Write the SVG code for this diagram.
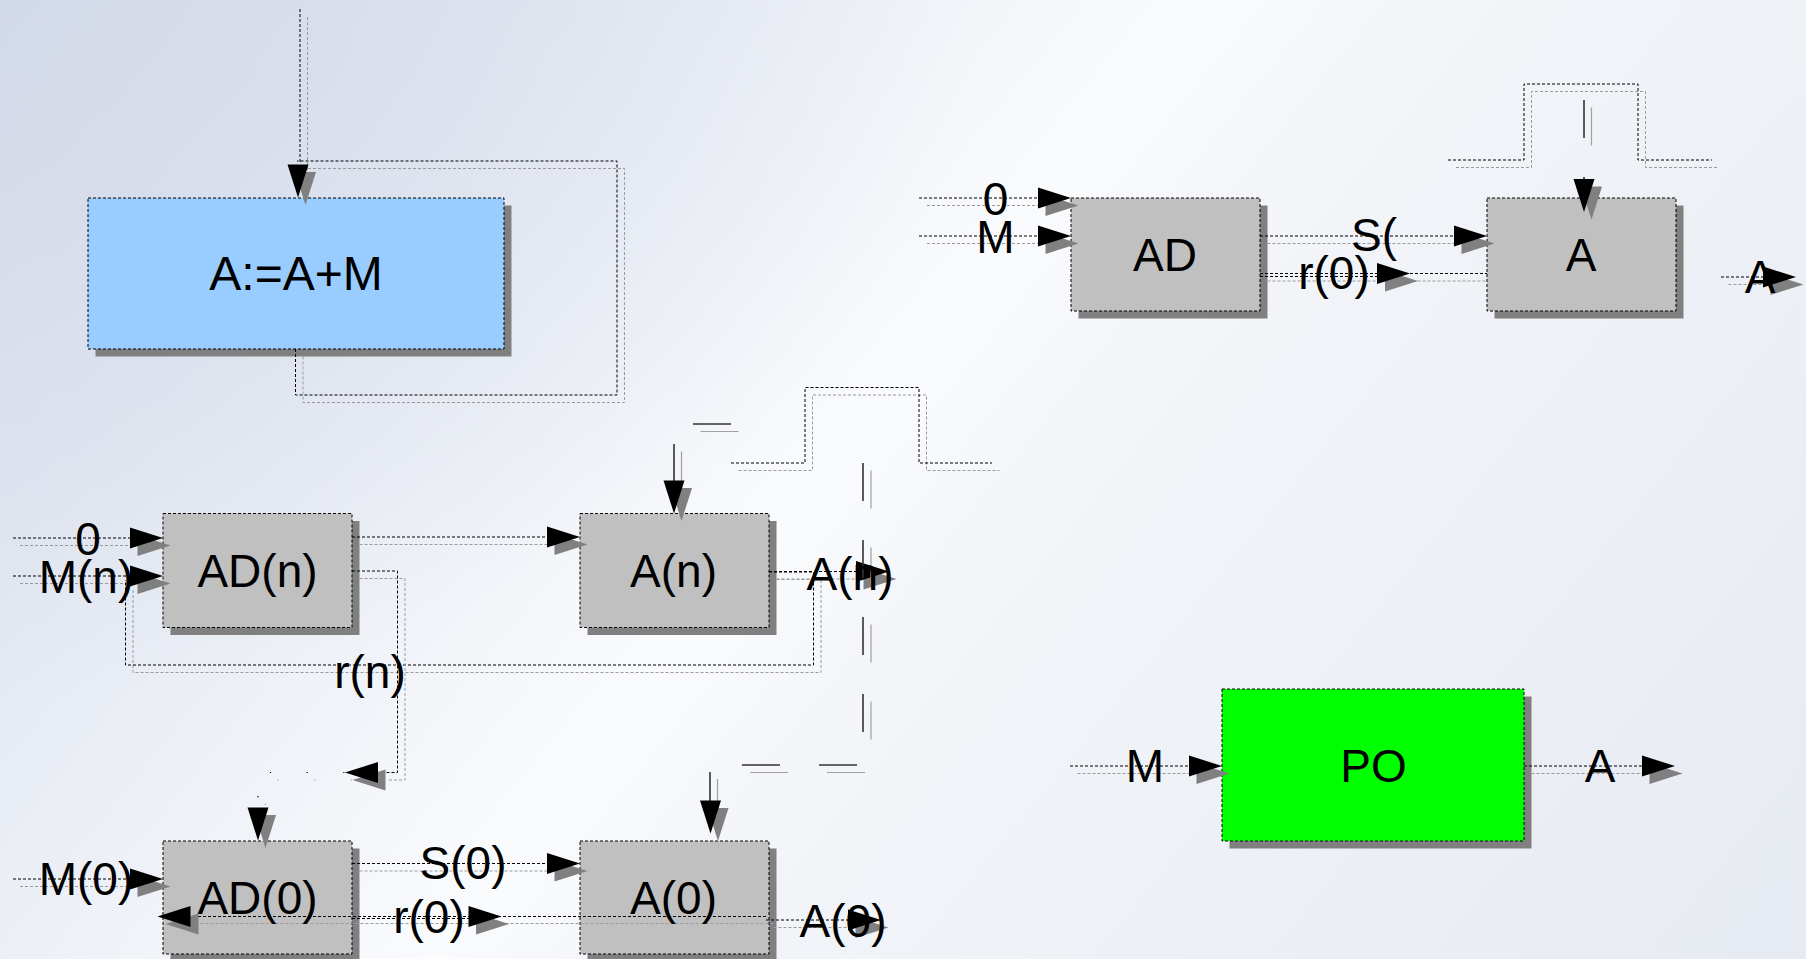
<svg xmlns="http://www.w3.org/2000/svg" xmlns:xlink="http://www.w3.org/1999/xlink" width="1806" height="959" viewBox="0 0 1806 959">
  <style>
    text { font-family: "Liberation Sans", Arial, sans-serif; font-size: 46px; fill: #000; text-anchor: middle; }
    .big { font-size: 48px; }
    .box { stroke: #000; stroke-width: 1; stroke-dasharray: 3 2; }
    .grey { fill: #c0c0c0; }
    .shadow { fill: #808080; stroke: none; }
    .ln { fill: none; stroke: #000; stroke-width: 1; stroke-dasharray: 3 2; }
    .lns { fill: none; stroke: #9a9a9a; stroke-width: 1; stroke-dasharray: 3 2; }
    .ld { fill: none; stroke: #333; stroke-width: 1.6; stroke-dasharray: 38 39; }
    .lds { fill: none; stroke: #a0a0a0; stroke-width: 1.2; stroke-dasharray: 38 39; }
    .dot { fill: none; stroke: #000; stroke-width: 1.2; stroke-dasharray: 1.2 35.5; }
    .dots { fill: none; stroke: #999; stroke-width: 1.2; stroke-dasharray: 1.2 35.5; }
    .ah { fill: #000; }
    .ahs { fill: #808080; }
  </style>
  <defs>
    <linearGradient id="bg" gradientUnits="userSpaceOnUse" x1="0" y1="0" x2="1553" y2="1262">
      <stop offset="0" stop-color="#d6dcea"/>
      <stop offset="0.25" stop-color="#e8ecf4"/>
      <stop offset="0.47" stop-color="#fafbfd"/>
      <stop offset="0.55" stop-color="#f3f5f9"/>
      <stop offset="1" stop-color="#e6eaf2"/>
    </linearGradient>
    <radialGradient id="corner" gradientUnits="userSpaceOnUse" cx="0" cy="0" r="700" gradientTransform="scale(1.4 1)">
      <stop offset="0" stop-color="#d2d9e8" stop-opacity="0.8"/>
      <stop offset="1" stop-color="#d2d9e8" stop-opacity="0"/>
    </radialGradient>
    <!-- arrowhead pointing right, tip at the origin -->
    <path id="arrow" d="M0,0 L-33,-10.5 L-33,10.5 Z"/>
  </defs>

  <rect x="0" y="0" width="1806" height="959" fill="url(#bg)"/>
  <rect x="0" y="0" width="1806" height="959" fill="url(#corner)"/>

  <!-- nodes -->
  <g id="accumulator">
    <rect class="shadow" x="95.5" y="205.5" width="416" height="151"/>
    <rect class="box" x="88" y="198" width="416" height="151" fill="#99ccff"/>
  </g>

  <g id="ad">
    <rect class="shadow" x="1078.5" y="205.5" width="189" height="113"/>
    <rect class="box grey" x="1071" y="198" width="189" height="113"/>
  </g>
  <g id="a">
    <rect class="shadow" x="1494.5" y="205.5" width="189" height="113"/>
    <rect class="box grey" x="1487" y="198" width="189" height="113"/>
  </g>

  <g id="ad-n">
    <rect class="shadow" x="170.5" y="521" width="189" height="114"/>
    <rect class="box grey" x="163" y="513.5" width="189" height="114"/>
  </g>
  <g id="a-n">
    <rect class="shadow" x="587.5" y="521" width="189" height="114"/>
    <rect class="box grey" x="580" y="513.5" width="189" height="114"/>
  </g>

  <g id="ad-0">
    <rect class="shadow" x="170.5" y="848.5" width="189" height="113"/>
    <rect class="box grey" x="163" y="841" width="189" height="113"/>
  </g>
  <g id="a-0">
    <rect class="shadow" x="587.5" y="848.5" width="189" height="113"/>
    <rect class="box grey" x="580" y="841" width="189" height="113"/>
  </g>

  <g id="po">
    <rect class="shadow" x="1229.5" y="696.5" width="302" height="152"/>
    <rect class="box" x="1222" y="689" width="302" height="152" fill="#00ff00"/>
  </g>

  <!-- connectors -->
  <g id="connectors">
    <!-- accumulator loop -->
    <path class="lns" d="M307.5,17 V172"/>
    <path class="ln" d="M300,9 V164"/>
    <path class="lns" d="M303,356.5 V402.5 H624.5 V168.5 H308"/>
    <path class="ln" d="M295.5,349 V395 H617 V161 H297"/>
    <use href="#arrow" class="ahs" transform="translate(305.5,205) rotate(90)"/>
    <use href="#arrow" class="ah" transform="translate(298,197.5) rotate(90)"/>

    <!-- top right: AD / A -->
    <path class="lns" d="M927,205.5 H1063"/>
    <path class="ln" d="M919,198 H1040"/>
    <use href="#arrow" class="ahs" transform="translate(1078.5,205.5)"/>
    <use href="#arrow" class="ah" transform="translate(1071,198)"/>
    <path class="lns" d="M927,243.5 H1063"/>
    <path class="ln" d="M919,236 H1040"/>
    <use href="#arrow" class="ahs" transform="translate(1078.5,243.5)"/>
    <use href="#arrow" class="ah" transform="translate(1071,236)"/>

    <path class="lns" d="M1267.5,243.5 H1480"/>
    <path class="ln" d="M1260,236 H1455"/>
    <use href="#arrow" class="ahs" transform="translate(1494.5,243.5)"/>
    <use href="#arrow" class="ah" transform="translate(1487,236)"/>

    <path class="lns" d="M1267.5,281 H1487"/>
    <path class="ln" d="M1260,273.5 H1487"/>
    <path class="ln" d="M1260,276.5 H1380"/>
    <use href="#arrow" class="ahs" transform="translate(1418,281)"/>
    <use href="#arrow" class="ah" transform="translate(1410,273.5)"/>

    <path class="lns" d="M1456,167.5 H1531.5 V91.5 H1645.5 V167.5 H1719"/>
    <path class="ln" d="M1448,160 H1524 V84 H1638 V160 H1712"/>
    <path class="lds" d="M1591.5,107.5 V212"/>
    <path class="ld" d="M1584,100 V180"/>
    <use href="#arrow" class="ahs" transform="translate(1591.5,219.5) rotate(90)"/>
    <use href="#arrow" class="ah" transform="translate(1584,212) rotate(90)"/>

    <path class="lns" d="M1728.5,284.5 H1770"/>
    <path class="ln" d="M1721,277 H1763"/>
    <use href="#arrow" class="ahs" transform="translate(1803.5,284.5)"/>
    <use href="#arrow" class="ah" transform="translate(1796,277)"/>

    <!-- middle: AD(n) / A(n) -->
    <path class="lns" d="M20,545.5 H155"/>
    <path class="ln" d="M13,538 H130"/>
    <use href="#arrow" class="ahs" transform="translate(170.5,545.5)"/>
    <use href="#arrow" class="ah" transform="translate(163,538)"/>
    <path class="lns" d="M20,583.5 H155"/>
    <path class="ln" d="M13,576 H130"/>
    <use href="#arrow" class="ahs" transform="translate(170.5,583.5)"/>
    <use href="#arrow" class="ah" transform="translate(163,576)"/>

    <path class="lns" d="M359.5,544.5 H572"/>
    <path class="ln" d="M352,537 H547"/>
    <use href="#arrow" class="ahs" transform="translate(587.5,544.5)"/>
    <use href="#arrow" class="ah" transform="translate(580,537)"/>

    <path class="lns" d="M776.5,579.5 H821 V672.5 H133 V588"/>
    <path class="ln" d="M769,572 H813.5 V665 H125.5 V580"/>

    <path class="lns" d="M776.5,579 H863"/>
    <path class="ln" d="M769,571.5 H856"/>
    <use href="#arrow" class="ahs" transform="translate(896.5,579)"/>
    <use href="#arrow" class="ah" transform="translate(889,571.5)"/>

    <path class="lns" d="M359.5,578.5 H405 V780 H387"/>
    <path class="ln" d="M352,571 H397.5 V772.5 H378"/>
    <use href="#arrow" class="ahs" transform="translate(352.5,780) rotate(180)"/>
    <use href="#arrow" class="ah" transform="translate(345,772.5) rotate(180)"/>
    <path class="dots" d="M352,780 H265.5 V815"/>
    <path class="dot" d="M344.5,772.5 H258 V807"/>
    <use href="#arrow" class="ahs" transform="translate(265.5,848) rotate(90)"/>
    <use href="#arrow" class="ah" transform="translate(258,840.5) rotate(90)"/>

    <path class="lns" d="M738.5,470.5 H812.5 V395 H926.5 V470.5 H999.5"/>
    <path class="ln" d="M731,463 H805 V387.5 H919 V463 H992"/>
    <path class="lds" d="M738.5,470.5 V431.5 H681.5 V490" stroke-dashoffset="38"/>
    <path class="ld" d="M731,463 V424 H674 V482" stroke-dashoffset="38"/>
    <use href="#arrow" class="ahs" transform="translate(681.5,521) rotate(90)"/>
    <use href="#arrow" class="ah" transform="translate(674,513.5) rotate(90)"/>

    <path class="lds" d="M871,470.5 V772.5 H717.5 V808"/>
    <path class="ld" d="M863,463 V765 H710 V801"/>
    <use href="#arrow" class="ahs" transform="translate(718,841) rotate(90)"/>
    <use href="#arrow" class="ah" transform="translate(710.5,833.5) rotate(90)"/>

    <!-- bottom: AD(0) / A(0) -->
    <path class="lns" d="M20,886.5 H155"/>
    <path class="ln" d="M13,879 H130"/>
    <use href="#arrow" class="ahs" transform="translate(170.5,886.5)"/>
    <use href="#arrow" class="ah" transform="translate(163,879)"/>

    <path class="lns" d="M359.5,871 H572"/>
    <path class="ln" d="M352,863.5 H547"/>
    <use href="#arrow" class="ahs" transform="translate(587.5,871)"/>
    <use href="#arrow" class="ah" transform="translate(580,863.5)"/>

    <path class="lns" d="M773.5,923.5 H198"/>
    <path class="ln" d="M766,916.5 H191"/>
    <path class="ln" d="M352,918.5 H470"/>
    <use href="#arrow" class="ahs" transform="translate(165.5,924) rotate(180)"/>
    <use href="#arrow" class="ah" transform="translate(157.5,916.5) rotate(180)"/>
    <use href="#arrow" class="ahs" transform="translate(509,924)"/>
    <use href="#arrow" class="ah" transform="translate(501.5,916.5)"/>

    <path class="lns" d="M773.5,927.5 H855"/>
    <path class="ln" d="M766,920 H848"/>
    <use href="#arrow" class="ahs" transform="translate(888.5,927.5)"/>
    <use href="#arrow" class="ah" transform="translate(881,920)"/>

    <!-- PO -->
    <path class="lns" d="M1077.5,773.5 H1215"/>
    <path class="ln" d="M1070,766 H1189"/>
    <use href="#arrow" class="ahs" transform="translate(1229.5,773.5)"/>
    <use href="#arrow" class="ah" transform="translate(1222,766)"/>
    <path class="lns" d="M1531.5,773.5 H1650"/>
    <path class="ln" d="M1524,766 H1642"/>
    <use href="#arrow" class="ahs" transform="translate(1682.5,773.5)"/>
    <use href="#arrow" class="ah" transform="translate(1675,766)"/>
  </g>

  <!-- node titles -->
  <g id="titles">
    <text class="big" x="296" y="290">A:=A+M</text>
    <text x="1165" y="271">AD</text>
    <text x="1581" y="271">A</text>
    <text x="257.5" y="587">AD(n)</text>
    <text x="673.5" y="587">A(n)</text>
    <text x="257.5" y="914">AD(0)</text>
    <text x="673.5" y="914">A(0)</text>
    <text x="1373.5" y="782">PO</text>
  </g>

  <!-- signal labels -->
  <g id="labels">
    <text x="995.5" y="215">0</text>
    <text x="995.5" y="252.5">M</text>
    <text x="1374" y="251">S(</text>
    <text x="1334" y="288.5">r(0)</text>
    <text x="1760" y="293">A</text>

    <text x="88" y="555">0</text>
    <text x="86" y="593">M(n)</text>
    <text x="370" y="688">r(n)</text>
    <text x="850" y="590">A(n)</text>

    <text x="86" y="895">M(0)</text>
    <text x="463" y="878.5">S(0)</text>
    <text x="429" y="933">r(0)</text>
    <text x="843" y="936.5">A(0)</text>

    <text x="1145" y="782">M</text>
    <text x="1600" y="782">A</text>
  </g>
</svg>
